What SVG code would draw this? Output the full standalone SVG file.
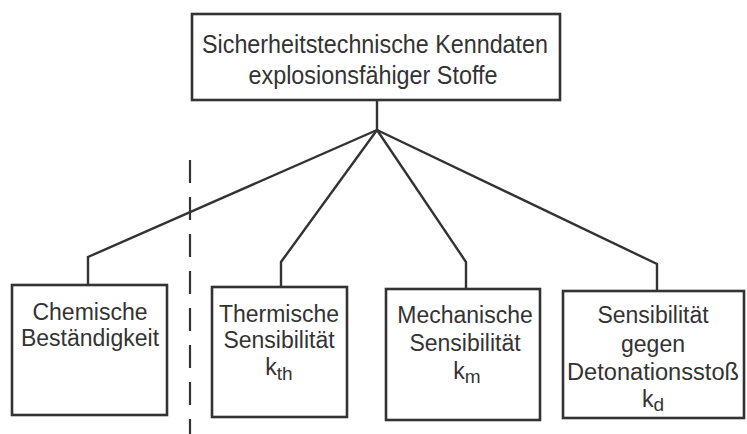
<svg xmlns="http://www.w3.org/2000/svg" width="747" height="434" viewBox="0 0 747 434">
<style>
.box{fill:#fff;stroke:#333;stroke-width:2.6}
.ln{fill:none;stroke:#333;stroke-width:2.4;stroke-linejoin:miter}
.dash{fill:none;stroke:#333;stroke-width:2.2;stroke-dasharray:23 14}
text{font-family:"Liberation Sans","DejaVu Sans",sans-serif;fill:#333;text-anchor:middle}
.t{font-size:25px}
.b{font-size:23px}
.s{font-size:19px}
</style>
<rect width="747" height="434" fill="#fff"/>
<g id="connectors">
<path class="ln" d="M377 100 V130"/>
<path class="ln" d="M377 130 L88 257 V285"/>
<path class="ln" d="M377 130 L281 262 V287"/>
<path class="ln" d="M377 130 L466 262 V289"/>
<path class="ln" d="M377 130 L657 264 V291"/>
<path class="dash" d="M190 160 V434"/>
</g>
<g id="root">
<rect class="box" x="192" y="14" width="368" height="86"/>
<text class="t" x="375" y="53" textLength="346" lengthAdjust="spacingAndGlyphs">Sicherheitstechnische Kenndaten</text>
<text class="t" x="373" y="84" textLength="249" lengthAdjust="spacingAndGlyphs">explosionsfähiger Stoffe</text>
</g>
<g id="chem">
<rect class="box" x="12" y="285" width="155" height="130"/>
<text class="b" x="90" y="320">Chemische</text>
<text class="b" x="90" y="346">Beständigkeit</text>
</g>
<g id="therm">
<rect class="box" x="212" y="287" width="135" height="130"/>
<text class="b" x="279" y="322">Thermische</text>
<text class="b" x="279" y="348">Sensibilität</text>
<text class="b" x="279" y="375">k<tspan class="s" dy="5">th</tspan></text>
</g>
<g id="mech">
<rect class="box" x="386" y="289" width="154" height="131"/>
<text class="b" x="465" y="323">Mechanische</text>
<text class="b" x="465" y="351">Sensibilität</text>
<text class="b" x="467" y="379">k<tspan class="s" dy="4">m</tspan></text>
</g>
<g id="deto">
<rect class="box" x="563" y="291" width="181" height="127"/>
<text class="b" x="653" y="323">Sensibilität</text>
<text class="b" x="653" y="352">gegen</text>
<text class="b" x="653" y="380" textLength="172" lengthAdjust="spacingAndGlyphs">Detonationsstoß</text>
<text class="b" x="653" y="407">k<tspan class="s" dy="4">d</tspan></text>
</g>
</svg>
